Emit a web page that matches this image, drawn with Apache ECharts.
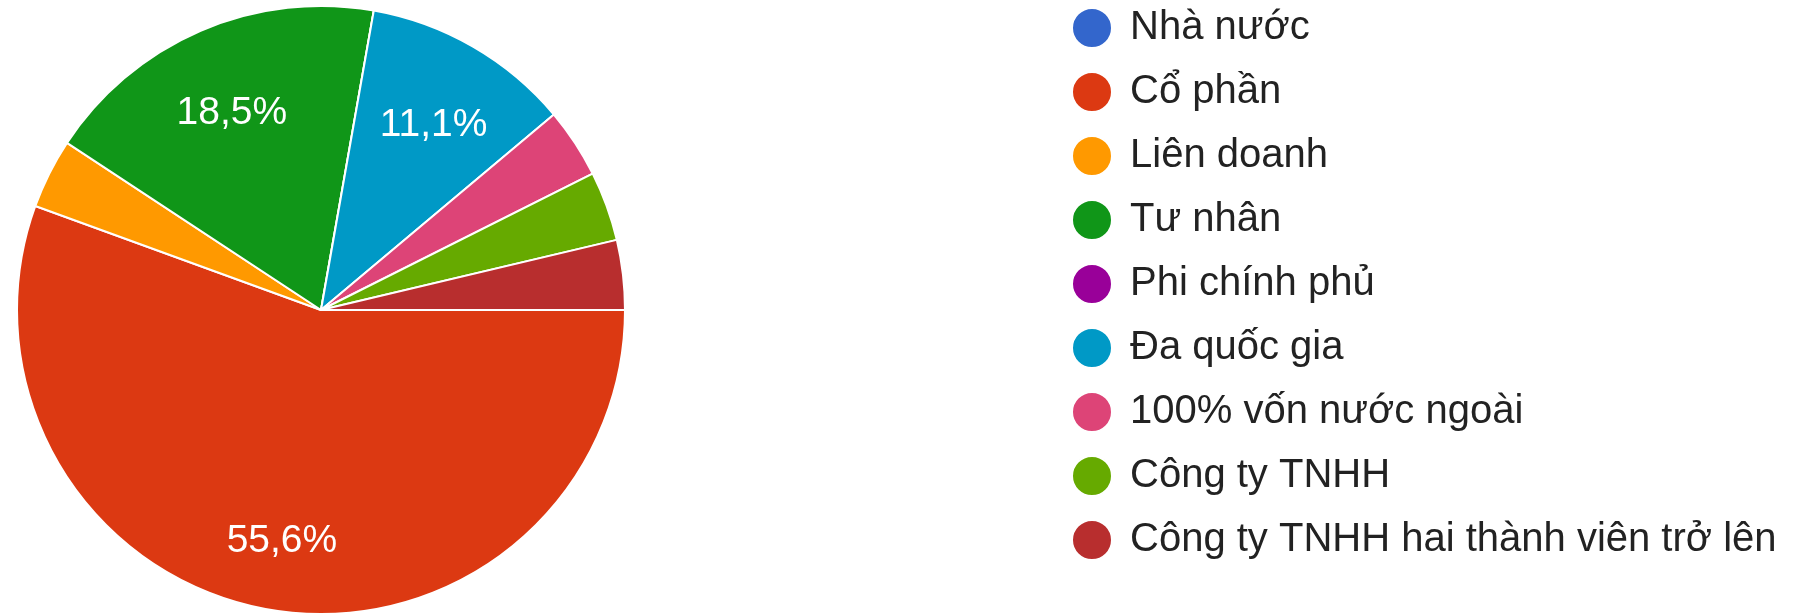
<!DOCTYPE html>
<html>
<head>
    <meta charset="utf-8">
    <title>Loại hình doanh nghiệp</title>
    <script src="https://cdn.jsdelivr.net/npm/echarts@6/dist/echarts.min.js"></script>
    <style>
        html, body { margin: 0; padding: 0; background: #fff; }
        #main { width: 1801px; height: 613px; }
    </style>
</head>
<body>
<div id="main"></div>
<script>
    // dữ liệu
    var categories = ['Nhà nước', 'Cổ phần', 'Liên doanh', 'Tư nhân', 'Phi chính phủ',
        'Đa quốc gia', '100% vốn nước ngoài', 'Công ty TNHH', 'Công ty TNHH hai thành viên trở lên'];
    var counts = [0, 15, 1, 5, 0, 3, 1, 1, 1];
    var colors = ['#3366cc', '#dc3912', '#ff9900', '#109618', '#990099',
        '#0099c6', '#dd4477', '#66aa00', '#b82e2e'];

    var pieData = categories.map(function (name, i) {
        return {name: name, value: counts[i], itemStyle: {color: colors[i]}};
    });
    // vòng trong suốt chỉ để đặt nhãn %
    var labelData = categories.map(function (name, i) {
        return {name: name + ' ', value: counts[i]};
    });

    var myChart = echarts.init(document.getElementById('main'));
    myChart.setOption({
        animation: false,
        legend: {
            orient: 'vertical',
            left: 1071,
            top: 7,
            padding: 0,
            data: categories,
            icon: 'circle',
            itemWidth: 40,
            itemHeight: 40,
            itemGap: 22,
            selectedMode: false,
            textStyle: {
                fontFamily: 'Liberation Sans, Arial, sans-serif',
                fontSize: 40,
                lineHeight: 40,
                color: '#222',
                padding: [0, 0, 0, 13]
            }
        },
        series: [
            {
                name: 'main',
                type: 'pie',
                center: [321, 310],
                radius: 304,
                startAngle: 0,
                clockwise: true,
                avoidLabelOverlap: false,
                label: {show: false},
                labelLine: {show: false},
                itemStyle: {borderColor: '#fff', borderWidth: 2},
                emphasis: {disabled: true},
                data: pieData
            },
            {
                name: 'labels',
                type: 'pie',
                center: [321, 310],
                radius: [140, 304],
                startAngle: 0,
                clockwise: true,
                silent: true,
                avoidLabelOverlap: false,
                itemStyle: {color: 'rgba(0,0,0,0)'},
                labelLine: {show: false},
                emphasis: {disabled: true},
                label: {
                    show: true,
                    position: 'inside',
                    offset: [0, 10],
                    color: '#fff',
                    fontFamily: 'Liberation Sans, Arial, sans-serif',
                    fontSize: 39,
                    formatter: function (p) {
                        if (p.percent < 5) return '';
                        return p.percent.toFixed(1).replace('.', ',') + '%';
                    }
                },
                data: labelData
            }
        ]
    });
</script>
</body>
</html>
